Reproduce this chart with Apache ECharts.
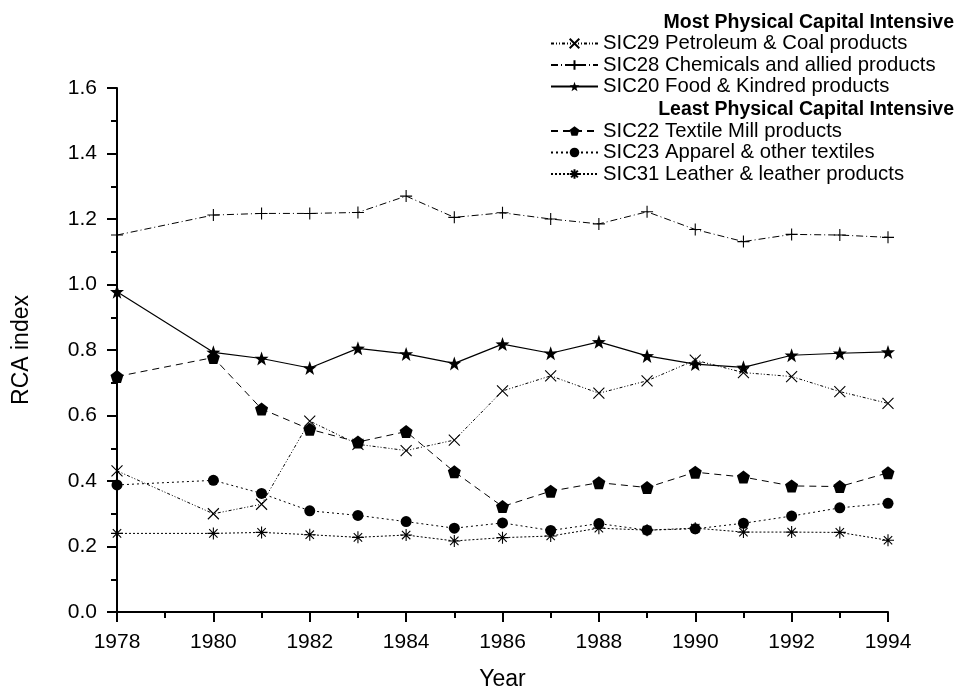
<!DOCTYPE html>
<html>
<head>
<meta charset="utf-8">
<script src="https://cdn.jsdelivr.net/npm/echarts@6/dist/echarts.min.js"></script>
<style>html,body{margin:0;padding:0;background:#fff}#c{width:962px;height:690px}</style>
</head>
<body>
<div id="c"></div>
<script>
const years = [1978,1980,1981,1982,1983,1984,1985,1986,1987,1988,1989,1990,1991,1992,1993,1994];
const sic29 = [0.431,0.300,0.329,0.583,0.512,0.493,0.525,0.675,0.721,0.668,0.706,0.769,0.731,0.719,0.673,0.637];
const sic28 = [1.151,1.212,1.217,1.217,1.220,1.270,1.205,1.219,1.200,1.185,1.222,1.168,1.131,1.153,1.151,1.144];
const sic20 = [0.978,0.793,0.774,0.745,0.805,0.788,0.759,0.818,0.790,0.825,0.782,0.757,0.747,0.784,0.790,0.794];
const sic22 = [0.719,0.777,0.620,0.558,0.519,0.551,0.428,0.322,0.369,0.395,0.380,0.427,0.412,0.385,0.383,0.425];
const sic23 = [0.388,0.402,0.362,0.309,0.295,0.276,0.256,0.272,0.249,0.270,0.250,0.254,0.271,0.293,0.318,0.332];
const sic31 = [0.240,0.240,0.243,0.236,0.228,0.235,0.217,0.227,0.232,0.256,0.250,0.256,0.244,0.244,0.243,0.219];
const names = [
  'SIC29 Petroleum & Coal products',
  'SIC28 Chemicals and allied products',
  'SIC20 Food & Kindred products',
  'SIC22 Textile Mill products',
  'SIC23 Apparel & other textiles',
  'SIC31 Leather & leather products'
];
const headings = ['Most Physical Capital Intensive','Least Physical Capital Intensive'];

const FONT = 'Liberation Sans';
const pts = arr => years.map((y,i)=>[y,arr[i]]);

const SYM_X = 'path://M0,0L10,10M10,0L0,10';
const SYM_PLUS = 'path://M5,0L5,10M0,5L10,5';
const SYM_AST = 'path://M5,0L5,10M0,5L10,5M1.5,1.5L8.5,8.5M8.5,1.5L1.5,8.5';
const SYM_STAR = 'path://M50,0L61.8,33.8L97.6,34.5L69,56.2L79.4,90.5L50,70L20.6,90.5L31,56.2L2.4,34.5L38.2,33.8Z';
const SYM_PENT = 'path://M50,0L97.6,34.5L79.4,90.5L20.6,90.5L2.4,34.5Z';

function mk(name, data, symbol, size, dash, width, fill) {
  return {
    name: name, type: 'line', data: pts(data),
    symbol: symbol, symbolSize: size,
    lineStyle: {color:'#000', width: width, type: dash},
    itemStyle: fill ? {color:'#000', borderWidth:0} : {color:'#000', borderColor:'#000', borderWidth:1.1},
    emphasis: {disabled:true},
    animation: false
  };
}

const series = [
  mk(names[0], sic29, SYM_X, 11, [3,2,1,2,1,2], 1, false),
  mk(names[1], sic28, SYM_PLUS, 12, [7,3,1,3], 1, false),
  mk(names[2], sic20, SYM_STAR, 14, 'solid', 1.2, true),
  mk(names[3], sic22, SYM_PENT, 13, [7,5], 1, true),
  mk(names[4], sic23, 'circle', 11, [2,3], 1, true),
  mk(names[5], sic31, SYM_AST, 12, [2,2], 1, false)
];

const legendText = {fontFamily: FONT, fontSize: 20.3, color:'#000'};
const chart = echarts.init(document.getElementById('c'), null, {renderer:'canvas'});
chart.setOption({
  animation: false,
  backgroundColor: '#fff',
  grid: {left:117, right:74, top:88, bottom:78, containLabel:false, outerBoundsMode:'none'},
  xAxis: {
    type:'value', min:1978, max:1994, interval:2,
    name:'Year', nameLocation:'middle', nameGap:56,
    nameTextStyle:{fontFamily:FONT, fontSize:23, color:'#000'},
    axisLine:{show:true, onZero:false, lineStyle:{color:'#000', width:2}},
    axisTick:{show:true, inside:false, length:10, lineStyle:{color:'#000', width:2}},
    minorTick:{show:true, splitNumber:2, length:6, lineStyle:{color:'#000', width:2}},
    axisLabel:{fontFamily:FONT, fontSize:21, color:'#000', margin:20, formatter: v => String(v)},
    splitLine:{show:false}
  },
  yAxis: {
    type:'value', min:0, max:1.6, interval:0.2,
    name:'RCA index', nameLocation:'middle', nameGap:84, nameRotate:90,
    nameTextStyle:{fontFamily:FONT, fontSize:23, color:'#000'},
    axisLine:{show:true, onZero:false, lineStyle:{color:'#000', width:2}},
    axisTick:{show:true, inside:false, length:10, lineStyle:{color:'#000', width:2}},
    minorTick:{show:true, splitNumber:2, length:6, lineStyle:{color:'#000', width:2}},
    axisLabel:{fontFamily:FONT, fontSize:21, color:'#000', margin:20, formatter: v => v.toFixed(1)},
    splitLine:{show:false}
  },
  legend: [
    {data: names.slice(0,3), orient:'vertical', left:550, top:33.5, itemWidth:47, itemHeight:12, itemGap:1.5,
     textStyle: legendText, selectedMode:false, padding:0},
    {data: names.slice(3), orient:'vertical', left:550, top:121, itemWidth:47, itemHeight:12, itemGap:1.5,
     textStyle: legendText, selectedMode:false, padding:0}
  ],
  graphic: [
    {type:'text', right:8, top:13, style:{text:headings[0], font:'bold 19.5px "Liberation Sans"', fill:'#000'}},
    {type:'text', right:8, top:100, style:{text:headings[1], font:'bold 19.5px "Liberation Sans"', fill:'#000'}}
  ],
  series: series
});
</script>
</body>
</html>
